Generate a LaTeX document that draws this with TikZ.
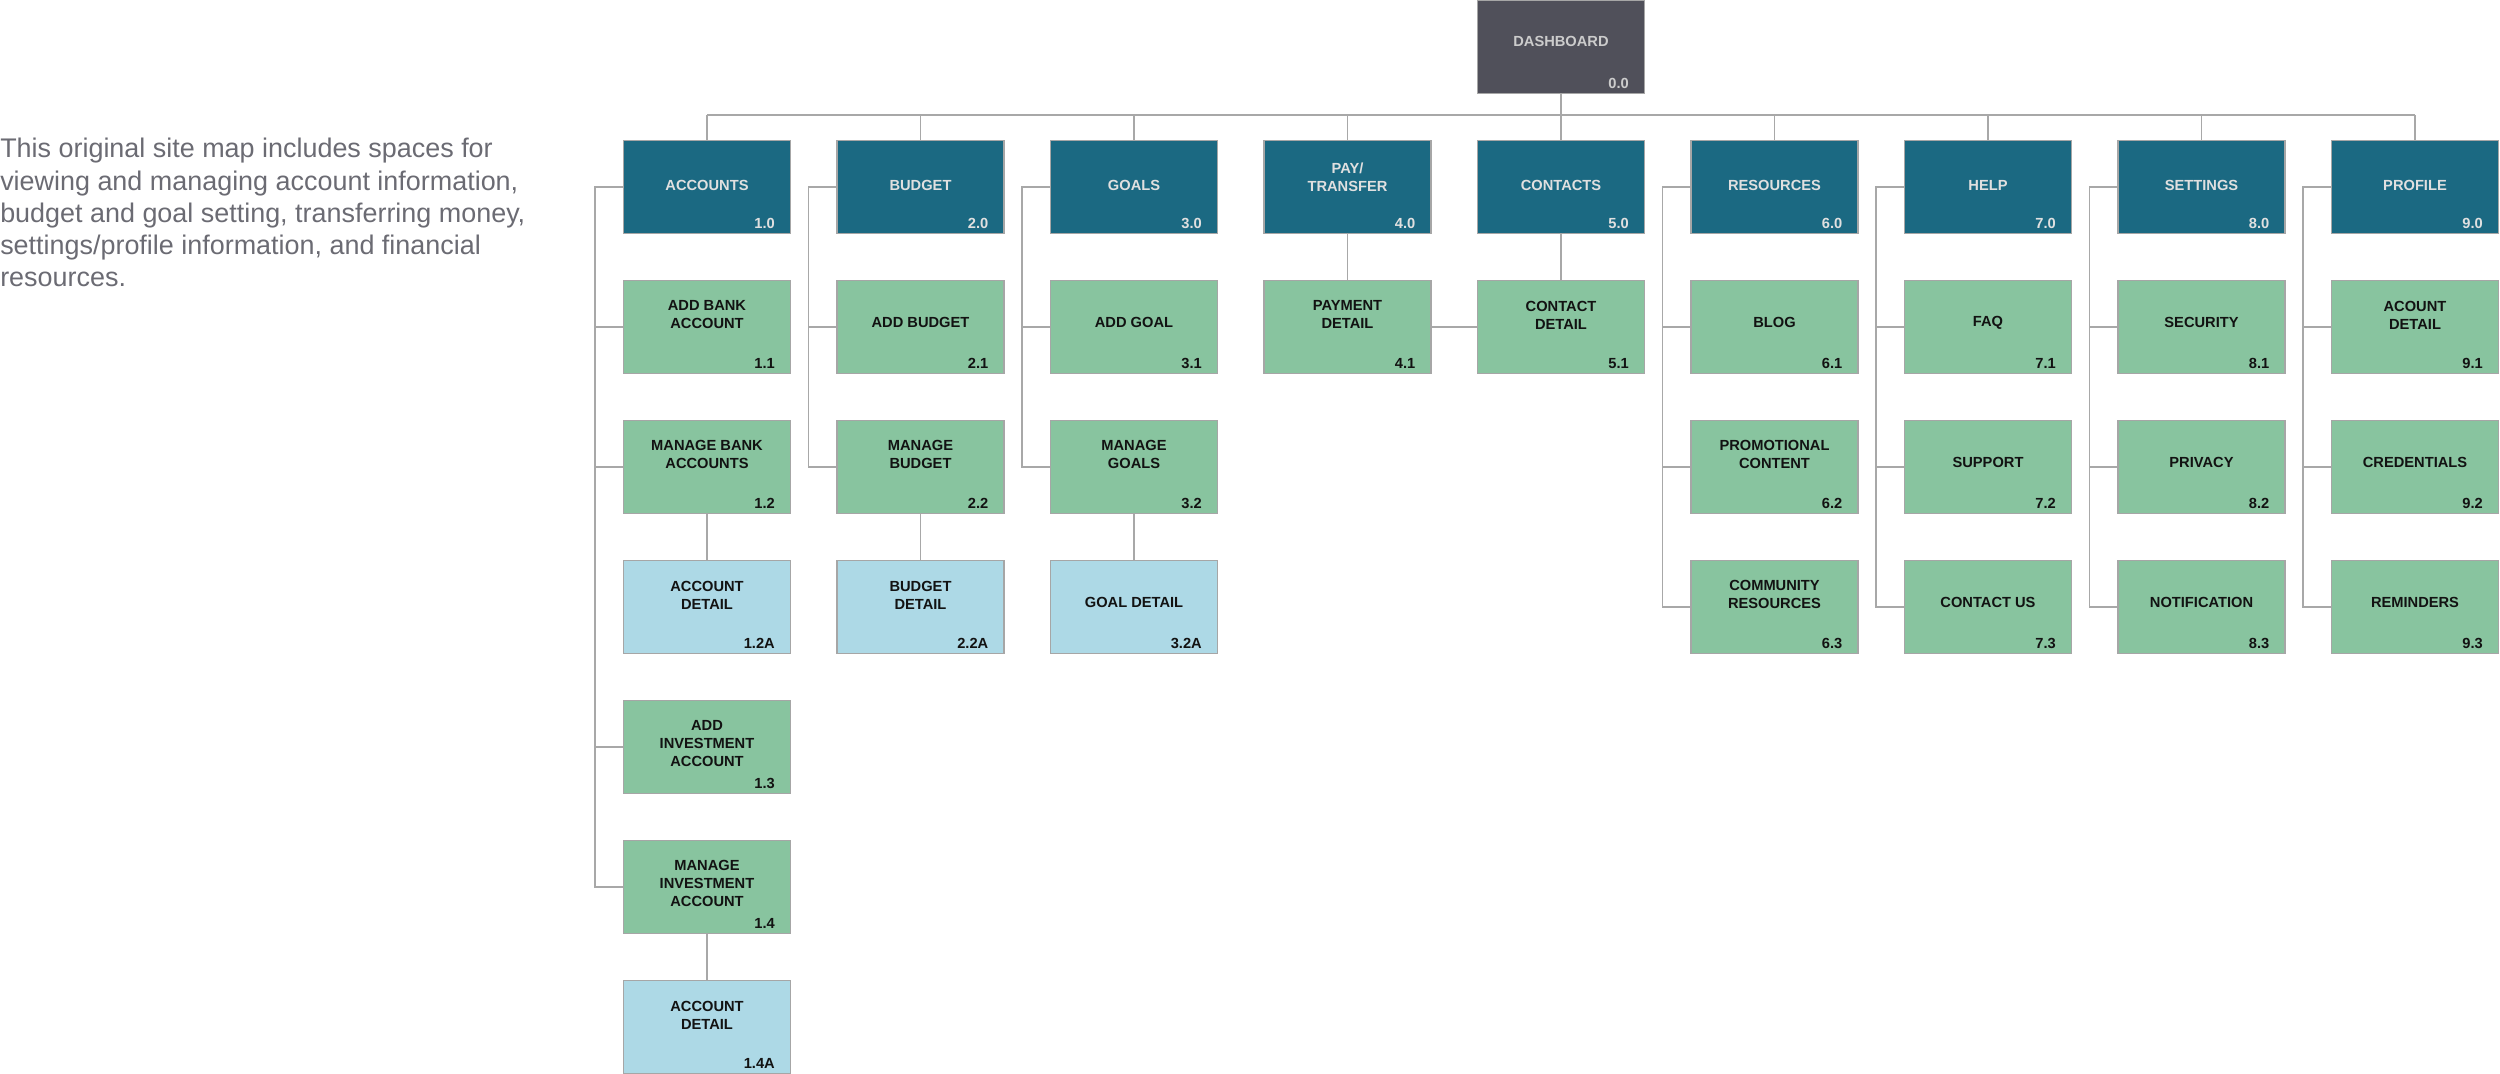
\documentclass[tikz,border=0pt]{standalone}
\usepackage{fontspec}
\setmainfont{Liberation Sans}
\usetikzlibrary{calc}
\definecolor{dashc}{HTML}{50505A}
\definecolor{tealc}{HTML}{1B6982}
\definecolor{greenc}{HTML}{88C49F}
\definecolor{bluec}{HTML}{ADD9E6}
\definecolor{borderc}{HTML}{A6A6A6}
\definecolor{linec}{HTML}{A8A8A8}
\definecolor{desc}{HTML}{6B6B73}
\newcommand{\bx}[7]{%
  \node[#4] (#1) at ({707+213.5*(#2)},{140*(#3)+47}) {};
  \node[lab,#4text] at ($(#1.north)+(0,#7)$) {#5};
  \node[numlab,#4text] at ($(#1.south east)+(-16,-6)$) {#6};}
\begin{document}
\begin{tikzpicture}[x=0.75pt,y=-0.75pt,
  basebox/.style={rectangle,draw=borderc,line width=1.1pt,minimum width=125pt,minimum height=69.5pt,inner sep=0pt},
  dashbox/.style={basebox,fill=dashc},
  topbox/.style={basebox,fill=tealc},
  subbox/.style={basebox,fill=greenc},
  detbox/.style={basebox,fill=bluec},
  dashboxtext/.style={text=black!20},
  topboxtext/.style={text=black!12},
  subboxtext/.style={text=black!93},
  detboxtext/.style={text=black!93},
  lab/.style={align=center,inner sep=0pt,font=\fontsize{11}{13.5}\selectfont\bfseries},
  numlab/.style={anchor=base east,inner sep=0pt,font=\fontsize{11}{13.5}\selectfont\bfseries},
  conn/.style={draw=linec,line width=1.1pt}]
\useasboundingbox (0,0) rectangle (2500,1074);

% description
\node[anchor=north west,align=left,inner sep=0pt,text=desc,font=\fontsize{20.2}{24.2}\selectfont] (desc) at (0,138)
 {This original site map includes spaces for\\viewing and managing account information,\\budget and goal setting, transferring money,\\settings/profile information, and financial\\resources.};

% connectors first (behind boxes)
\coordinate (busL) at (707,115);
\coordinate (busR) at (2415,115);

% dashboard
\node[dashbox] (d0) at (1561,47) {};
\node[lab,dashboxtext] at ($(d0.north)+(0,42)$) {DASHBOARD};
\node[numlab,dashboxtext] at ($(d0.south east)+(-16,-6)$) {0.0};

% level 1
\bx{t1}{0}{1}{topbox}{ACCOUNTS}{1.0}{46}
\bx{t2}{1}{1}{topbox}{BUDGET}{2.0}{46}
\bx{t3}{2}{1}{topbox}{GOALS}{3.0}{46}
\bx{t4}{3}{1}{topbox}{PAY/\\TRANSFER}{4.0}{37}
\bx{t5}{4}{1}{topbox}{CONTACTS}{5.0}{46}
\bx{t6}{5}{1}{topbox}{RESOURCES}{6.0}{46}
\bx{t7}{6}{1}{topbox}{HELP}{7.0}{46}
\bx{t8}{7}{1}{topbox}{SETTINGS}{8.0}{46}
\bx{t9}{8}{1}{topbox}{PROFILE}{9.0}{46}

% accounts
\bx{c11}{0}{2}{subbox}{ADD BANK\\ACCOUNT}{1.1}{35}
\bx{c12}{0}{3}{subbox}{MANAGE BANK\\ACCOUNTS}{1.2}{35}
\bx{c12a}{0}{4}{detbox}{ACCOUNT\\DETAIL}{1.2A}{35}
\bx{c13}{0}{5}{subbox}{ADD\\INVESTMENT\\ACCOUNT}{1.3}{44}
\bx{c14}{0}{6}{subbox}{MANAGE\\INVESTMENT\\ACCOUNT}{1.4}{44}
\bx{c14a}{0}{7}{detbox}{ACCOUNT\\DETAIL}{1.4A}{35}
% budget
\bx{c21}{1}{2}{subbox}{ADD BUDGET}{2.1}{43}
\bx{c22}{1}{3}{subbox}{MANAGE\\BUDGET}{2.2}{35}
\bx{c22a}{1}{4}{detbox}{BUDGET\\DETAIL}{2.2A}{35}
% goals
\bx{c31}{2}{2}{subbox}{ADD GOAL}{3.1}{43}
\bx{c32}{2}{3}{subbox}{MANAGE\\GOALS}{3.2}{35}
\bx{c32a}{2}{4}{detbox}{GOAL DETAIL}{3.2A}{43}
% pay / contacts
\bx{c41}{3}{2}{subbox}{PAYMENT\\DETAIL}{4.1}{35}
\bx{c51}{4}{2}{subbox}{CONTACT\\DETAIL}{5.1}{35}
% resources
\bx{c61}{5}{2}{subbox}{BLOG}{6.1}{43}
\bx{c62}{5}{3}{subbox}{PROMOTIONAL\\CONTENT}{6.2}{35}
\bx{c63}{5}{4}{subbox}{COMMUNITY\\RESOURCES}{6.3}{35}
% help
\bx{c71}{6}{2}{subbox}{FAQ}{7.1}{43}
\bx{c72}{6}{3}{subbox}{SUPPORT}{7.2}{43}
\bx{c73}{6}{4}{subbox}{CONTACT US}{7.3}{43}
% settings
\bx{c81}{7}{2}{subbox}{SECURITY}{8.1}{43}
\bx{c82}{7}{3}{subbox}{PRIVACY}{8.2}{43}
\bx{c83}{7}{4}{subbox}{NOTIFICATION}{8.3}{43}
% profile
\bx{c91}{8}{2}{subbox}{ACOUNT\\DETAIL}{9.1}{35}
\bx{c92}{8}{3}{subbox}{CREDENTIALS}{9.2}{43}
\bx{c93}{8}{4}{subbox}{REMINDERS}{9.3}{43}

% tree connectors
\draw[conn] (busL) -- (busR);
\draw[conn] (d0.south) -- (d0.south |- busL);
\foreach \n in {t1,t2,t3,t4,t5,t6,t7,t8,t9}
  \draw[conn] (\n.north) -- (\n.north |- busL);

% spines
\draw[conn] (t1.west) -- ++(-28,0) |- (c14.west);
\foreach \n in {c11,c12,c13} \draw[conn] (\n.west) -- ++(-28,0);
\draw[conn] (c12.south) -- (c12a.north);
\draw[conn] (c14.south) -- (c14a.north);

\draw[conn] (t2.west) -- ++(-28,0) |- (c22.west);
\draw[conn] (c21.west) -- ++(-28,0);
\draw[conn] (c22.south) -- (c22a.north);

\draw[conn] (t3.west) -- ++(-28,0) |- (c32.west);
\draw[conn] (c31.west) -- ++(-28,0);
\draw[conn] (c32.south) -- (c32a.north);

\draw[conn] (t4.south) -- (c41.north);
\draw[conn] (t5.south) -- (c51.north);
\draw[conn] (c41.east) -- (c51.west);

\draw[conn] (t6.west) -- ++(-28,0) |- (c63.west);
\foreach \n in {c61,c62} \draw[conn] (\n.west) -- ++(-28,0);
\draw[conn] (t7.west) -- ++(-28,0) |- (c73.west);
\foreach \n in {c71,c72} \draw[conn] (\n.west) -- ++(-28,0);
\draw[conn] (t8.west) -- ++(-28,0) |- (c83.west);
\foreach \n in {c81,c82} \draw[conn] (\n.west) -- ++(-28,0);
\draw[conn] (t9.west) -- ++(-28,0) |- (c93.west);
\foreach \n in {c91,c92} \draw[conn] (\n.west) -- ++(-28,0);
\end{tikzpicture}
\end{document}
